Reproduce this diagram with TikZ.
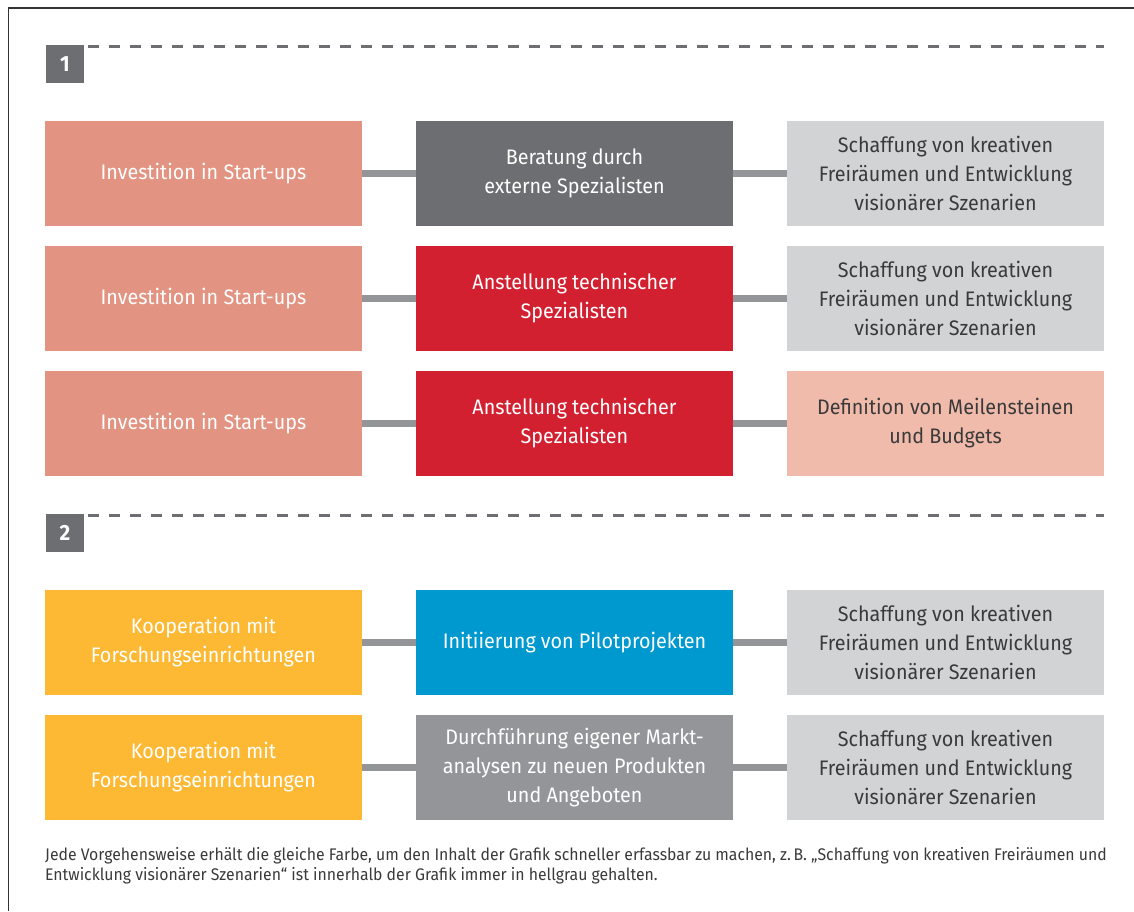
\documentclass[tikz,border=0pt]{standalone}
\usepackage{fontspec}
\setmainfont{Fira Sans}[FakeStretch=0.94]
\usetikzlibrary{positioning}

\definecolor{lachs}{HTML}{E39381}
\definecolor{lachshell}{HTML}{F0BBAB}
\definecolor{dunkelgrau}{HTML}{6D6E71}
\definecolor{mittelgrau}{HTML}{939598}
\definecolor{hellgrau}{HTML}{D1D3D4}
\definecolor{rot}{HTML}{D22030}
\definecolor{gelb}{HTML}{FDB933}
\definecolor{blau}{HTML}{0099CF}
\definecolor{schrift}{HTML}{3A3A3A}

\tikzset{
	feld/.style = {minimum width = 317pt, minimum height = 105pt, inner sep = 0pt,
		text = white, align = center, font = \fontsize{21}{29}\selectfont},
	feldhell/.style = {feld, text = schrift},
	nummer/.style = {fill = dunkelgrau, minimum size = 38pt, inner sep = 0pt,
		text = white, font = \fontsize{22}{22}\selectfont\bfseries},
	strich/.style = {draw = mittelgrau, line width = 7pt},
	trenner/.style = {draw = dunkelgrau, line width = 3pt, dash pattern = on 11pt off 10pt}
}

\begin{document}
\begin{tikzpicture}[x = 1pt, y = -1pt]
				\useasboundingbox (0,0) rectangle (1134,911);
				\draw[line width = 1.2pt, color = black!80] (8.5,911) -- (8.5,8) -- (1134,8);
				% Abschnitt 1
				\node[nummer] (n1) at (65,64) {1};
				\draw[trenner] (88,46.5) -- (1104,46.5);
				\node[feld, fill = lachs] (a1) at (203.5,173.5) {Investition in Start-ups};
				\node[feld, fill = dunkelgrau] (b1) at (574.5,173.5) {Beratung durch\\externe Spezialisten};
				\node[feldhell, fill = hellgrau] (c1) at (945.5,173.5) {Schaffung von kreativen\\Freiräumen und Entwicklung\\visionärer Szenarien};
				\node[feld, fill = lachs] (a2) at (203.5,298.5) {Investition in Start-ups};
				\node[feld, fill = rot] (b2) at (574.5,298.5) {Anstellung technischer\\Spezialisten};
				\node[feldhell, fill = hellgrau] (c2) at (945.5,298.5) {Schaffung von kreativen\\Freiräumen und Entwicklung\\visionärer Szenarien};
				\node[feld, fill = lachs] (a3) at (203.5,423.5) {Investition in Start-ups};
				\node[feld, fill = rot] (b3) at (574.5,423.5) {Anstellung technischer\\Spezialisten};
				\node[feldhell, fill = lachshell] (c3) at (945.5,423.5) {Definition von Meilensteinen\\und Budgets};
				% Abschnitt 2
				\node[nummer] (n2) at (65,533) {2};
				\draw[trenner] (88,515.5) -- (1104,515.5);
				\node[feld, fill = gelb] (a4) at (203.5,642.5) {Kooperation mit\\Forschungseinrichtungen};
				\node[feld, fill = blau] (b4) at (574.5,642.5) {Initiierung von Pilotprojekten};
				\node[feldhell, fill = hellgrau] (c4) at (945.5,642.5) {Schaffung von kreativen\\Freiräumen und Entwicklung\\visionärer Szenarien};
				\node[feld, fill = gelb] (a5) at (203.5,767.5) {Kooperation mit\\Forschungseinrichtungen};
				\node[feld, fill = mittelgrau] (b5) at (574.5,767.5) {Durchführung eigener Markt-\\analysen zu neuen Produkten\\und Angeboten};
				\node[feldhell, fill = hellgrau] (c5) at (945.5,767.5) {Schaffung von kreativen\\Freiräumen und Entwicklung\\visionärer Szenarien};
				\foreach \r in {1,...,5}{
					\draw[strich] (a\r.east) -- (b\r.west);
					\draw[strich] (b\r.east) -- (c\r.west);
				}
				% Legende
				\node[anchor = north west, inner sep = 0pt, align = left, text = schrift,
					font = \fontsize{16.8}{20}\selectfont] (legende) at (45,847)
					{Jede Vorgehensweise erhält die gleiche Farbe, um den Inhalt der Grafik schneller erfassbar zu machen, z.\,B. „Schaffung von kreativen Freiräumen und\\Entwicklung visionärer Szenarien“ ist innerhalb der Grafik immer in hellgrau gehalten.};
			\end{tikzpicture}
\end{document}
